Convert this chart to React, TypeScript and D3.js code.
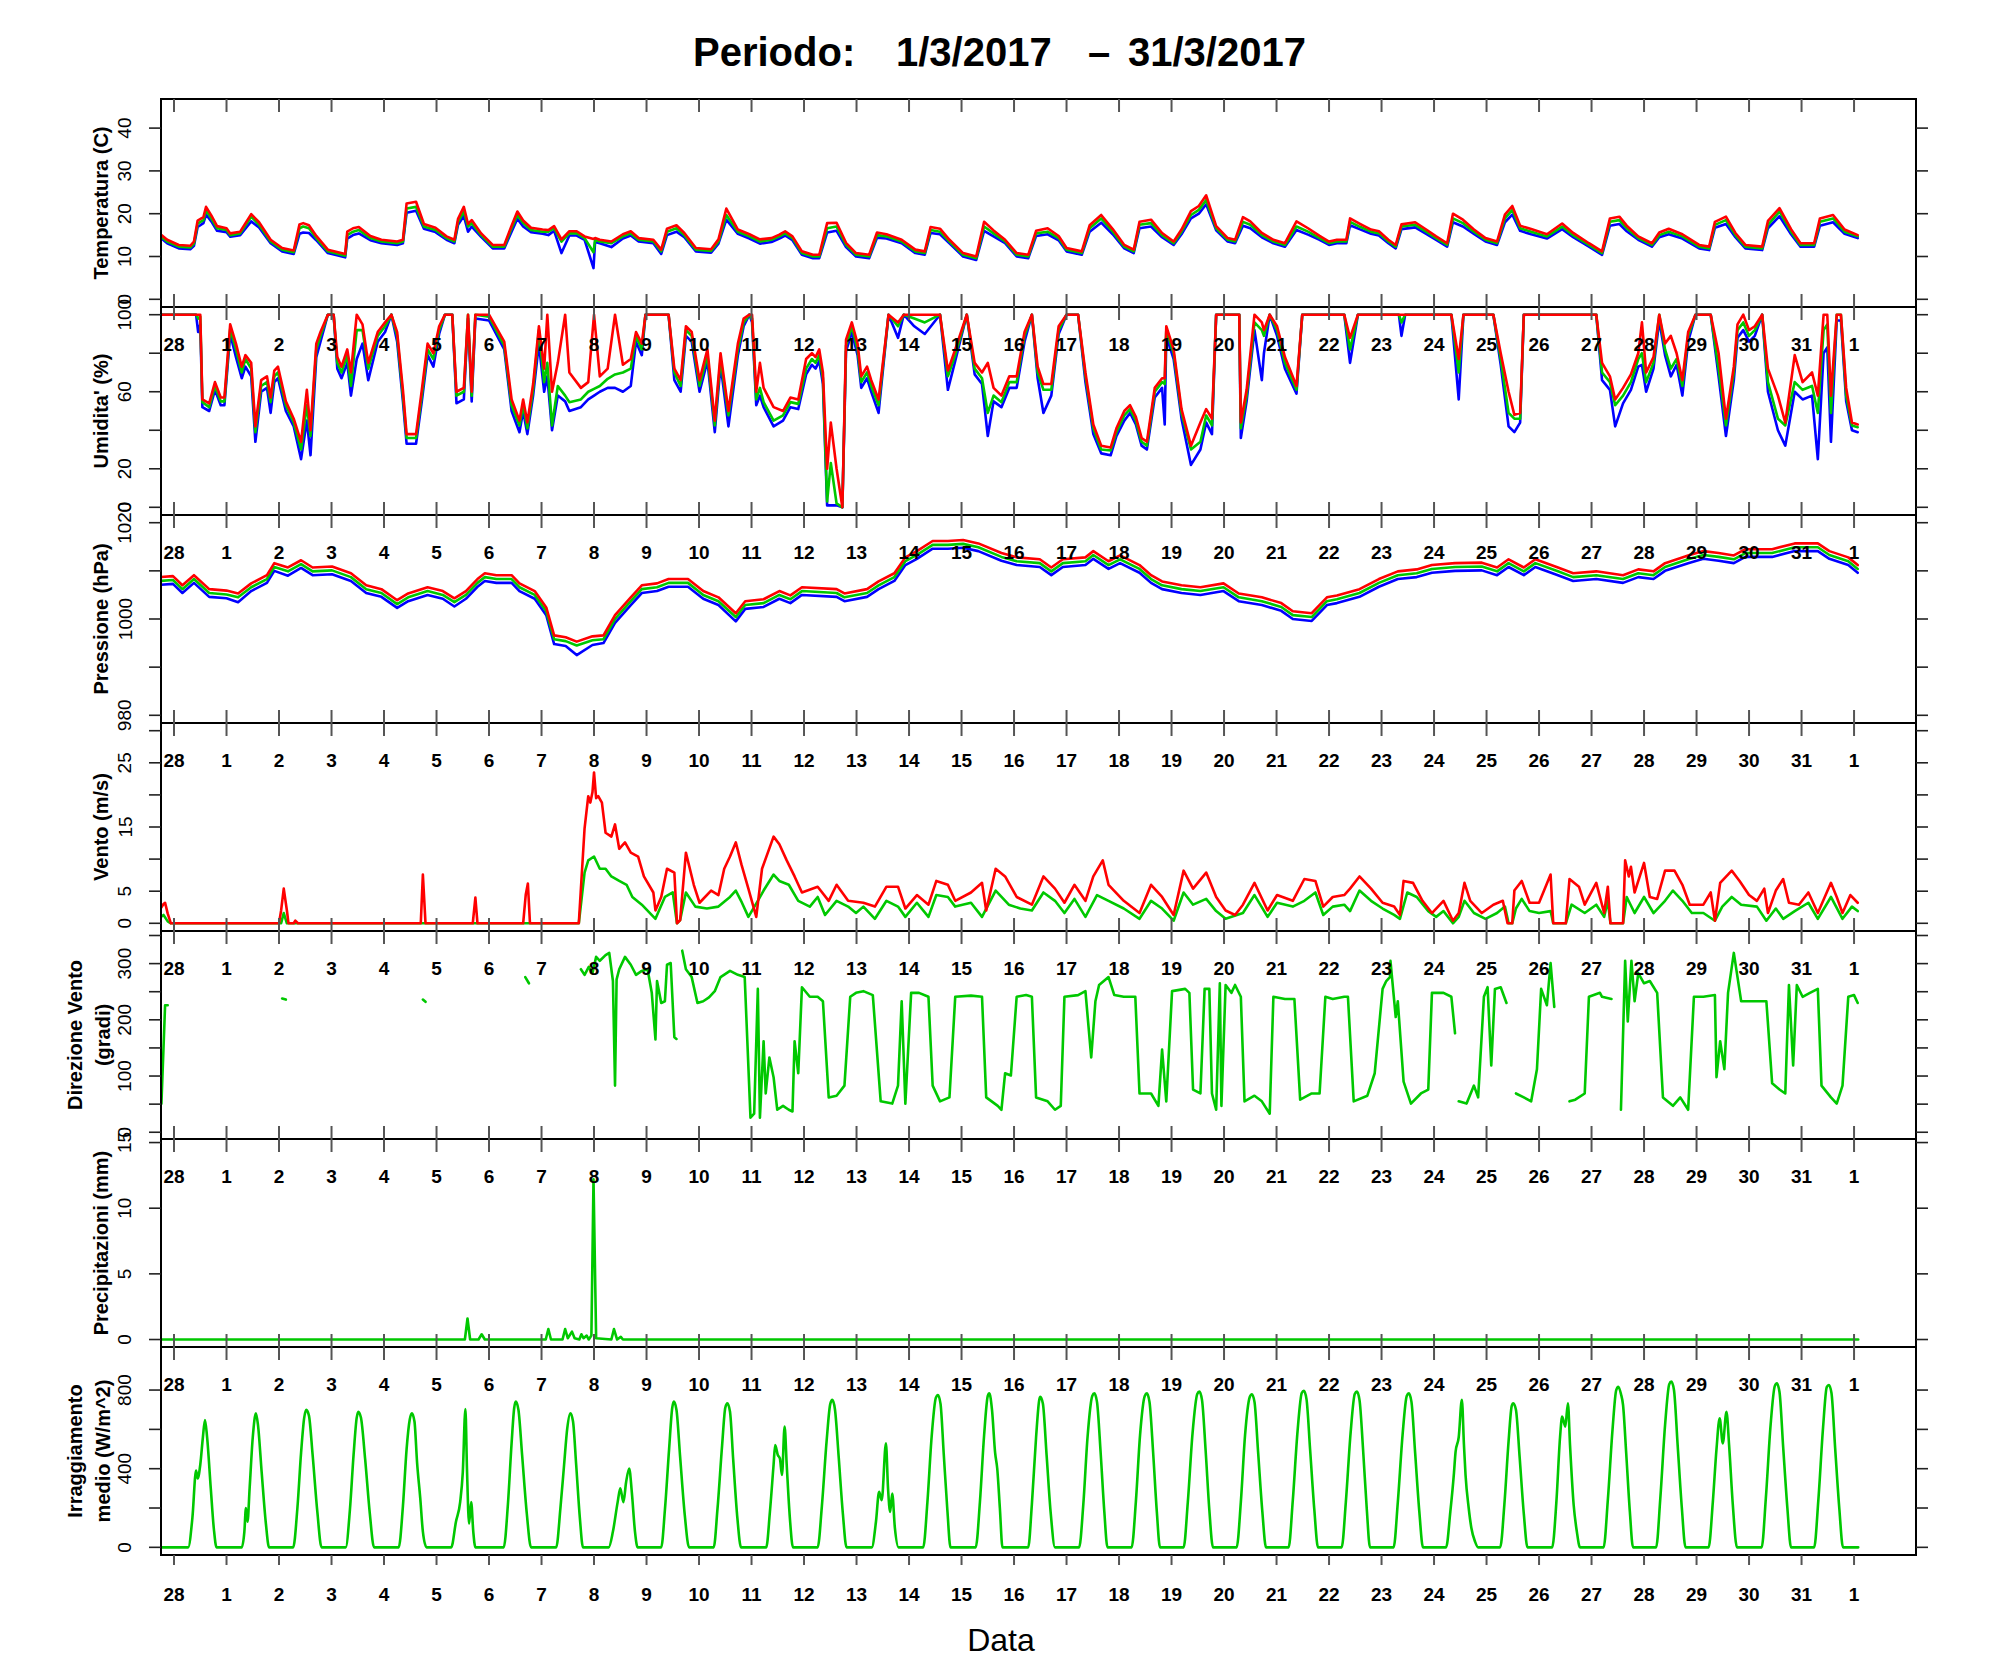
import React from 'react';
import * as d3 from 'd3';

type Pt = [number, number | null];
type Row = [number, number, number, number];

// ---------- x axis (days since 1 March 2017 00:00) ----------
const dayTicks: number[] = d3.range(-1, 32);
const dayTickLabels: string[] = ['28','1','2','3','4','5','6','7','8','9','10','11','12','13','14','15','16','17','18','19','20','21','22','23','24','25','26','27','28','29','30','31','1'];

// ---------- Temperatura [d, min, mean, max] ----------
const tempRows: Row[] = [
[-1.28,14.6,15.0,15.4],[-1.13,13.1,13.5,13.9],[-0.91,11.9,12.3,12.7],[-0.69,11.7,12.1,12.5],[-0.62,12.5,13.0,13.5],[-0.55,16.9,17.7,18.4],[-0.44,17.8,18.5,19.2],[-0.39,19.8,20.8,21.6],[-0.29,18.2,18.9,19.6],[-0.18,16.0,16.6,17.1],
[0.0,15.7,16.2,16.6],[0.07,14.6,15.0,15.4],[0.26,15.0,15.4,15.8],[0.47,18.2,19.3,19.9],[0.62,16.8,17.4,18.0],[0.84,13.1,13.5,13.9],[1.06,11.2,11.6,12.0],[1.28,10.6,11.0,11.4],[1.39,15.3,16.6,17.5],[1.46,15.6,17.0,17.8],
[1.57,15.5,16.6,17.3],[1.71,13.8,14.3,14.8],[1.93,10.8,11.2,11.6],[2.26,9.8,10.2,10.6],[2.30,14.2,15.0,15.8],[2.41,15.0,15.8,16.6],[2.52,15.4,16.2,16.9],[2.74,13.8,14.3,14.8],[2.95,13.1,13.5,13.9],[3.25,12.7,13.1,13.5],
[3.36,13.1,13.5,13.9],[3.43,20.2,21.2,22.4],[3.61,20.7,21.6,22.8],[3.76,16.5,17.0,17.6],[3.98,15.7,16.2,16.7],[4.19,13.9,14.3,14.7],[4.34,13.1,13.5,13.9],[4.41,17.4,18.1,18.8],[4.52,19.5,20.5,21.6],[4.60,15.8,17.0,17.6],
[4.67,17.0,17.8,18.5],[4.85,14.6,15.0,15.4],[5.07,11.9,12.3,12.7],[5.29,11.9,12.3,12.7],[5.43,15.8,16.6,17.2],[5.54,18.8,19.7,20.5],[5.65,17.0,17.8,18.4],[5.80,15.7,16.2,16.7],[6.02,15.3,15.8,16.3],[6.13,15.0,15.8,16.2],
[6.24,16.0,16.6,17.1],[6.38,10.8,13.5,14.0],[6.53,14.9,15.4,15.9],[6.67,14.9,15.4,15.9],[6.82,13.9,14.3,14.7],[6.99,7.3,11.0,14.1],[7.02,13.4,13.9,14.3],[7.11,13.1,13.5,13.9],[7.33,12.2,13.1,13.5],[7.55,14.2,14.7,15.2],
[7.70,14.9,15.4,15.9],[7.85,13.5,13.9,14.3],[8.13,13.1,13.5,13.9],[8.28,10.6,11.2,11.6],[8.39,15.0,15.8,16.5],[8.57,15.8,16.6,17.3],[8.72,14.5,15.0,15.5],[8.94,11.2,11.6,12.0],[9.23,10.9,11.3,11.7],[9.37,13.0,13.5,14.0],
[9.52,18.6,19.7,21.2],[9.74,15.3,15.8,16.3],[9.96,14.2,14.7,15.2],[10.16,13.0,13.5,14.0],[10.38,13.4,13.9,14.3],[10.53,14.2,14.7,15.1],[10.64,14.9,15.4,15.9],[10.78,13.8,14.3,14.7],[10.96,10.4,10.8,11.2],[11.17,9.6,10.0,10.4],
[11.29,9.6,10.0,10.4],[11.44,15.6,16.6,17.8],[11.62,16.0,17.0,17.9],[11.80,12.2,12.7,13.2],[11.99,10.0,10.4,10.8],[12.24,9.6,10.0,10.4],[12.39,14.4,15.0,15.6],[12.57,14.2,14.7,15.2],[12.86,13.1,13.5,13.9],[13.12,10.8,11.2,11.6],
[13.30,10.4,10.8,11.2],[13.41,15.5,16.2,16.9],[13.59,15.2,15.8,16.5],[13.77,13.1,13.5,13.9],[14.03,10.0,10.4,10.8],[14.28,9.2,9.6,10.0],[14.43,16.0,17.0,18.1],[14.61,14.7,15.4,16.1],[14.83,13.1,13.5,13.9],[15.05,10.0,10.4,10.8],
[15.27,9.6,10.0,10.4],[15.42,14.8,15.4,16.0],[15.64,15.2,15.8,16.6],[15.85,13.8,14.3,14.8],[16.0,11.2,11.6,12.0],[16.29,10.4,10.8,11.2],[16.44,15.8,16.6,17.3],[16.66,17.9,18.9,19.7],[16.88,15.2,15.8,16.4],[17.10,11.9,12.3,12.7],
[17.28,10.8,11.2,11.6],[17.39,16.6,17.4,18.1],[17.61,17.0,17.8,18.6],[17.82,14.5,15.0,15.5],[18.04,12.7,13.1,13.5],[18.19,15.2,15.8,16.3],[18.37,18.9,19.7,20.6],[18.52,20.0,20.9,21.8],[18.66,22.2,23.2,24.3],[18.85,16.1,16.6,17.1],
[19.07,13.5,13.9,14.3],[19.21,13.1,13.5,13.9],[19.36,17.2,18.1,19.2],[19.50,16.6,17.4,18.2],[19.72,14.5,15.0,15.5],[19.94,13.1,13.5,13.9],[20.16,12.3,12.7,13.1],[20.38,16.2,17.0,18.2],[20.60,15.1,15.8,16.6],[20.82,13.9,14.3,14.8],
[21.0,12.7,13.1,13.5],[21.15,13.1,13.5,13.9],[21.33,13.1,13.5,13.9],[21.40,17.3,18.1,18.9],[21.58,16.4,17.0,17.7],[21.80,15.3,15.8,16.3],[21.95,14.9,15.4,15.9],[22.13,13.1,13.5,13.9],[22.27,11.9,12.3,12.7],[22.38,16.4,17.0,17.5],
[22.64,16.8,17.4,18.0],[22.85,15.3,15.8,16.3],[23.04,13.9,14.3,14.7],[23.25,12.3,12.7,13.1],[23.36,18.0,18.9,20.0],[23.55,17.0,17.8,18.6],[23.76,15.3,15.8,16.3],[23.98,13.5,13.9,14.3],[24.20,12.7,13.1,13.5],[24.35,18.0,18.9,19.8],
[24.49,19.8,20.9,21.8],[24.64,16.0,16.6,17.2],[24.85,15.2,15.8,16.4],[25.15,14.2,14.7,15.2],[25.44,16.4,17.0,17.7],[25.65,14.5,15.0,15.5],[25.95,12.3,12.7,13.1],[26.20,10.4,10.8,11.2],[26.35,17.2,18.1,18.9],[26.53,17.6,18.5,19.3],
[26.67,15.9,16.6,17.2],[26.89,13.9,14.3,14.7],[27.15,12.3,12.7,13.1],[27.29,14.5,15.0,15.6],[27.47,15.2,15.8,16.5],[27.73,14.2,14.7,15.2],[28.05,11.9,12.3,12.7],[28.24,11.5,11.9,12.3],[28.35,16.7,17.4,18.1],[28.56,17.6,18.5,19.3],
[28.74,14.5,15.0,15.5],[28.93,11.9,12.3,12.7],[29.25,11.5,11.9,12.3],[29.36,16.6,17.4,18.3],[29.58,19.4,20.5,21.3],[29.80,15.2,15.8,16.4],[29.98,12.3,12.7,13.1],[30.24,12.3,12.7,13.1],[30.35,17.2,18.1,18.9],[30.60,18.0,18.9,19.7],
[30.82,15.3,15.8,16.3],[31.07,14.3,14.7,15.0]
];

// ---------- Umidita' [d, min, mean, max] ----------
const humRows: Row[] = [
[-1.28,100,100,100],[-0.58,100,100,100],[-0.54,91,98,100],[-0.50,95,99,100],[-0.46,52,54.6,56],[-0.33,50,52,54],[-0.22,61,63,65],[-0.11,53,55,57],[-0.04,53,55,57],[0.07,90,92.6,95],
[0.18,78,82,85],[0.29,67,70,73],[0.36,73,77,79],[0.47,68,72,75],[0.55,34,39,42],[0.66,60,63,66],[0.77,62,65,68],[0.84,49,54.6,57],[0.91,65,68,71],[0.98,67,70,73],
[1.13,50,53,55],[1.28,42,44,46],[1.42,25,30,34],[1.53,45,53,61],[1.60,27,37,40],[1.71,78,82,85],[1.79,86,89,91],[1.93,100,100,100],[2.04,100,100,100],[2.11,72,75,78],
[2.19,67,70,73],[2.30,75,79,82],[2.37,58,63,70],[2.48,77,92,100],[2.59,85,92,95],[2.70,66,72,75],[2.88,86,89,91],[3.02,91,94,96],[3.14,100,100,100],[3.25,86,89,91],
[3.36,55,58,61],[3.43,33,36,38],[3.61,33,36,38],[3.72,55,58,61],[3.83,79,82,85],[3.94,73,77,80],[4.05,90,92,94],[4.16,100,100,100],[4.30,100,100,100],[4.38,54,58,60],
[4.52,56,60,62],[4.60,98,100,100],[4.67,55,58,60],[4.74,98,100,100],[5.0,97,99,100],[5.29,82,84,86],[5.43,50,53,56],[5.58,39,42.5,45],[5.65,50,53,56],[5.73,38,41,44],
[5.84,58,61,64],[5.95,85,92,94],[6.05,60,65,72],[6.11,68,75,100],[6.20,40,42.5,60],[6.31,58,63,75],[6.45,55,58,100],[6.53,50,54.6,70],[6.75,52,56,62],[6.89,56,60,65],
[7.0,58,61.5,100],[7.11,60,63,68],[7.26,62,66.7,72],[7.40,62,69,100],[7.55,60,70,74],[7.70,63,72,77],[7.80,86,89,91],[7.91,79,82,85],[7.98,100,100,100],[8.42,100,100,100],
[8.53,66,70,72],[8.65,60,63,66],[8.75,89,92,94],[8.86,86,89,91],[9.01,60,63,66],[9.16,76,79,82],[9.30,39,42.5,45],[9.41,74,77,80],[9.56,42,47.7,50],[9.74,79,82,85],
[9.85,94,96,98],[9.96,100,100,100],[10.01,96,98,100],[10.09,53,56,60],[10.16,58,62,75],[10.23,52,54.6,62],[10.42,42,45,52],[10.60,45,47.7,50],[10.74,52,54.6,57],[10.89,51,53.7,56],
[11.04,69,72,77],[11.15,74,77,80],[11.22,72,75,78],[11.29,76,79,82],[11.36,64,67,70],[11.44,1,3,20],[11.51,1,23,44],[11.62,1,2,20],[11.73,0,0,0],[11.80,81,84,87],
[11.91,91,94,96],[12.02,79,82,85],[12.09,62,65,68],[12.20,67,70,73],[12.28,60,63,66],[12.42,49,53,56],[12.61,100,100,100],[12.79,88,94,96],[12.90,100,100,100],[13.10,94,98,100],
[13.30,90,96,100],[13.59,100,100,100],[13.74,61,68,71],[13.88,76,79,82],[14.10,100,100,100],[14.25,69,72,75],[14.39,64,67,70],[14.50,37,49,75],[14.61,55,58,62],[14.76,52,54.6,58],
[14.91,62,65,68],[15.05,62,65,68],[15.20,86,89,91],[15.34,100,100,100],[15.45,67,70,73],[15.56,49,61,64],[15.71,58,61,64],[15.85,90,92,94],[16.0,100,100,100],[16.22,100,100,100],
[16.36,65,68,70],[16.51,38,41,43],[16.66,28,30,32],[16.84,27,29.5,31],[16.95,37,39,41],[17.10,45,47.7,50],[17.21,49,51,53],[17.32,43,45,47],[17.43,32,34,36],[17.53,30,32,34],
[17.68,57,60,62],[17.82,62,65,67],[17.87,43,64,67],[17.90,89,92,94],[18.04,77,80,82],[18.19,46,49,51],[18.37,22,30,32],[18.55,30,34,44],[18.66,44,47.7,51],[18.77,38,42.5,46],
[18.85,100,100,100],[19.29,100,100,100],[19.32,36,41,44],[19.43,55,58,61],[19.58,92,96,100],[19.72,66,92,96],[19.76,80,89,92],[19.87,100,100,100],[20.01,89,92,94],[20.16,72,75,78],
[20.38,59,61,63],[20.49,100,100,100],[21.29,100,100,100],[21.40,75,82,88],[21.55,100,100,100],[22.33,100,100,100],[22.38,89,96,100],[22.45,100,100,100],[23.33,100,100,100],[23.47,56,70,77],
[23.56,100,100,100],[24.13,100,100,100],[24.27,74,77,80],[24.42,42,49,60],[24.53,39,46,48],[24.64,44,46,49],[24.71,100,100,100],[26.09,100,100,100],[26.20,66,70,75],[26.35,61,65,68],
[26.45,42,53,56],[26.60,54,58,62],[26.75,61,65,69],[26.89,73,77,80],[26.96,74,80,96],[27.04,60,65,70],[27.18,72,75,78],[27.29,97,100,100],[27.40,79,82,85],[27.51,68,72,89],
[27.62,74,77,80],[27.73,58,63,66],[27.84,86,89,91],[27.98,100,100,100],[28.27,100,100,100],[28.42,68,72,80],[28.56,37,42.5,46],[28.71,66,70,73],[28.78,88,92,95],[28.89,92,96,100],
[29.0,86,89,92],[29.11,89,92,94],[29.25,100,100,100],[29.36,60,65,72],[29.55,40,46,58],[29.69,32,42.5,44],[29.87,60,65,79],[30.02,56,61,65],[30.20,58,63,70],[30.31,25,49,58],
[30.42,80,92,100],[30.49,83,95,100],[30.56,34,49,58],[30.67,97,100,100],[30.75,97,100,100],[30.85,55,58,62],[30.96,40,42.5,44],[31.07,39,41.6,43]
];

// ---------- Pressione [d, min, mean, max] ----------
const pressRows: Row[] = [
[-1.28,1007.1,1007.9,1008.7],[-1.02,1007.3,1008.1,1008.9],[-0.84,1005.4,1006.2,1007.0],[-0.62,1007.5,1008.3,1009.1],[-0.33,1004.6,1005.4,1006.2],[0.0,1004.3,1005.1,1005.9],[0.22,1003.5,1004.5,1005.3],[0.47,1005.8,1006.6,1007.4],
[0.77,1007.5,1008.3,1009.1],[0.91,1010.0,1010.8,1011.6],[1.17,1009.0,1009.9,1010.7],[1.42,1010.6,1011.4,1012.2],[1.64,1009.1,1009.9,1010.7],[2.01,1009.3,1010.1,1010.9],[2.37,1007.9,1008.7,1009.5],[2.66,1005.4,1006.2,1007.0],
[2.95,1004.6,1005.4,1006.2],[3.25,1002.3,1003.1,1003.9],[3.46,1003.7,1004.5,1005.3],[3.83,1005.0,1005.8,1006.6],[4.12,1004.2,1005.0,1005.8],[4.34,1002.6,1003.5,1004.3],[4.56,1004.2,1005.0,1005.8],[4.78,1006.7,1007.5,1008.3],
[4.92,1007.9,1008.7,1009.5],[5.14,1007.5,1008.3,1009.1],[5.43,1007.5,1008.3,1009.1],[5.58,1005.8,1006.6,1007.4],[5.87,1004.2,1005.0,1005.8],[6.09,1000.8,1001.6,1002.4],[6.24,994.8,995.8,996.6],[6.46,994.4,995.4,996.2],
[6.67,992.5,994.5,995.3],[6.97,994.6,995.6,996.4],[7.18,995.0,995.8,996.6],[7.40,999.2,1000.0,1000.8],[7.70,1002.9,1003.7,1004.5],[7.91,1005.4,1006.2,1007.0],[8.20,1005.8,1006.6,1007.4],[8.42,1006.7,1007.5,1008.3],
[8.79,1006.7,1007.5,1008.3],[9.08,1004.2,1005.0,1005.8],[9.37,1002.9,1003.7,1004.5],[9.70,999.5,1000.4,1001.2],[9.88,1002.1,1002.9,1003.7],[10.23,1002.5,1003.3,1004.1],[10.53,1004.2,1005.0,1005.8],[10.74,1003.3,1004.1,1004.9],
[10.96,1005.0,1005.8,1006.6],[11.62,1004.6,1005.4,1006.2],[11.77,1003.7,1004.5,1005.3],[12.20,1004.6,1005.4,1006.2],[12.42,1006.2,1007.0,1007.8],[12.72,1007.9,1008.7,1009.5],[12.93,1011.2,1012.0,1012.8],[13.15,1012.5,1013.3,1014.1],
[13.45,1014.6,1015.4,1016.2],[13.74,1014.6,1015.4,1016.2],[14.03,1014.8,1015.6,1016.4],[14.32,1014.1,1014.9,1015.7],[14.76,1012.1,1012.9,1013.7],[15.05,1011.2,1012.0,1012.8],[15.49,1010.8,1011.6,1012.4],[15.71,1009.1,1009.9,1010.7],
[15.93,1010.8,1011.6,1012.4],[16.36,1011.2,1012.0,1012.8],[16.51,1012.5,1013.3,1014.1],[16.80,1010.4,1011.2,1012.0],[17.02,1011.6,1012.4,1013.2],[17.39,1009.6,1010.4,1011.2],[17.61,1007.5,1008.3,1009.1],[17.82,1006.2,1007.0,1007.8],
[18.19,1005.4,1006.2,1007.0],[18.55,1005.0,1005.8,1006.6],[18.99,1005.8,1006.6,1007.4],[19.28,1003.7,1004.5,1005.3],[19.72,1002.9,1003.7,1004.5],[20.09,1001.7,1002.5,1003.3],[20.31,1000.0,1000.8,1001.6],[20.67,999.6,1000.4,1001.2],
[20.96,1002.9,1003.7,1004.5],[21.15,1003.3,1004.1,1004.9],[21.58,1004.6,1005.4,1006.2],[21.95,1006.7,1007.5,1008.3],[22.31,1008.3,1009.1,1009.9],[22.67,1008.7,1009.5,1010.3],[22.96,1009.6,1010.4,1011.2],[23.40,1010.0,1010.8,1011.6],
[23.91,1010.1,1010.9,1011.7],[24.20,1009.1,1009.9,1010.7],[24.42,1010.8,1011.6,1012.4],[24.71,1009.1,1009.9,1010.7],[24.93,1010.8,1011.6,1012.4],[25.36,1009.1,1009.9,1010.7],[25.65,1007.9,1008.7,1009.5],[26.09,1008.3,1009.1,1009.9],
[26.60,1007.5,1008.3,1009.1],[26.89,1008.7,1009.5,1010.3],[27.18,1008.3,1009.1,1009.9],[27.40,1010.0,1010.8,1011.6],[27.84,1011.6,1012.4,1013.2],[28.13,1012.5,1013.3,1014.1],[28.42,1012.1,1012.9,1013.7],[28.71,1011.6,1012.4,1013.2],
[28.93,1012.9,1013.7,1014.5],[29.44,1012.9,1013.7,1014.5],[29.87,1014.1,1014.9,1015.7],[30.31,1014.1,1014.9,1015.7],[30.53,1012.5,1013.3,1014.1],[30.89,1011.2,1012.0,1012.8],[31.07,1009.6,1010.4,1011.2]
];

// ---------- Vento (m/s) ----------
const windMax: Pt[] = [
[-1.28,2.0],[-1.20,3.0],[-1.17,3.2],[-1.12,1.5],[-1.06,0],[1.00,0],[1.04,2.0],[1.09,5.4],[1.15,2.0],[1.18,0],[1.28,0],[1.31,0.4],[1.36,0],[3.70,0],[3.74,7.6],[3.79,0],[4.69,0],[4.74,4.0],[4.78,0],[5.65,0],[5.70,4.5],[5.74,6.2],[5.78,0],
[6.71,0],[6.82,14.8],[6.89,19.8],[6.93,18.8],[6.97,20.4],[7.00,23.5],[7.04,19.5],[7.08,19.8],[7.15,18.8],[7.22,14.1],[7.33,13.5],[7.40,15.4],[7.48,11.6],[7.59,12.6],[7.70,11.0],[7.84,10.4],[7.95,7.3],[8.13,4.8],[8.17,2.0],[8.28,4.1],[8.39,8.5],[8.53,7.9],[8.58,0],[8.64,0.5],[8.75,11.0],[8.90,6.0],[9.01,3.2],[9.23,5.1],[9.37,4.4],[9.48,8.5],[9.59,10.4],[9.70,12.6],[9.81,9.1],[9.94,5.4],
[10.09,1.0],[10.20,8.5],[10.42,13.5],[10.53,12.3],[10.67,9.8],[10.82,7.3],[10.96,4.8],[11.26,5.7],[11.47,3.5],[11.62,6.0],[11.84,3.5],[12.13,3.2],[12.35,2.6],[12.57,5.7],[12.79,5.7],[12.93,2.3],[13.15,4.4],[13.37,2.9],[13.52,6.6],[13.74,6.0],[13.88,3.5],[14.18,4.8],[14.39,6.3],[14.47,2.0],[14.65,8.5],[14.83,7.3],[15.05,4.1],[15.34,2.9],[15.56,7.3],[15.78,5.4],[15.96,3.2],
[16.15,6.0],[16.36,3.5],[16.51,7.3],[16.69,9.8],[16.80,6.0],[17.09,3.5],[17.39,1.6],[17.61,6.0],[17.82,4.1],[18.04,1.3],[18.23,8.2],[18.41,5.4],[18.66,7.9],[18.85,4.1],[19.03,2.0],[19.21,1.3],[19.36,2.9],[19.58,6.3],[19.83,2.0],[20.01,4.4],[20.31,3.5],[20.53,6.9],[20.74,6.6],[20.89,2.6],
[21.07,4.1],[21.29,4.4],[21.40,5.4],[21.58,7.3],[21.80,5.4],[22.02,3.2],[22.24,2.6],[22.35,1.3],[22.42,6.6],[22.60,6.3],[22.78,3.5],[22.96,1.6],[23.18,3.5],[23.36,0.4],[23.47,1.6],[23.58,6.3],[23.69,3.5],[23.91,1.6],[24.13,2.9],[24.31,3.5],[24.40,0],[24.49,0],[24.53,5.1],[24.67,6.6],[24.82,3.2],[25.00,3.2],[25.22,7.6],[25.27,0],[25.51,0],[25.58,6.9],[25.76,5.7],[25.87,2.9],
[26.09,6.3],[26.24,1.6],[26.31,5.7],[26.36,0],[26.60,0],[26.64,9.8],[26.71,7.3],[26.75,8.8],[26.82,4.8],[27.00,9.4],[27.11,4.1],[27.25,3.8],[27.40,8.2],[27.58,8.2],[27.73,6.0],[27.87,2.9],[28.13,2.9],[28.27,4.8],[28.35,0.4],[28.45,6.3],[28.67,8.2],[28.82,6.6],[29.00,4.4],[29.15,3.5],[29.29,5.4],[29.36,1.6],[29.51,5.1],[29.65,6.9],[29.76,3.2],[29.95,2.9],[30.13,4.8],[30.31,1.6],[30.56,6.3],[30.67,4.1],[30.78,1.6],[30.93,4.4],[31.07,3.2]
];
const windMean: Pt[] = [
[-1.28,0.8],[-1.20,1.3],[-1.12,0.3],[-1.06,0],[1.04,0],[1.09,1.6],[1.15,0],[6.71,0],[6.82,7.9],[6.89,9.8],[7.00,10.4],[7.11,8.5],[7.22,8.5],[7.33,7.3],[7.48,6.6],[7.62,6.0],[7.73,4.1],[7.91,2.9],[8.17,0.7],[8.35,4.1],[8.50,4.8],[8.58,0],[8.64,0.5],[8.75,4.8],[8.93,2.6],[9.15,2.3],[9.37,2.6],[9.59,4.1],[9.70,5.1],[9.80,3.5],[9.94,1.0],
[10.12,3.5],[10.23,5.1],[10.42,7.6],[10.53,6.6],[10.71,6.0],[10.89,3.5],[11.11,2.6],[11.26,4.1],[11.40,1.3],[11.62,3.5],[11.84,2.6],[11.99,1.6],[12.13,2.6],[12.35,0.7],[12.57,3.5],[12.79,2.6],[12.93,1.0],[13.15,3.2],[13.37,1.0],[13.52,4.4],[13.74,4.1],[13.88,2.6],[14.18,3.2],[14.39,1.0],[14.65,5.1],[14.90,2.9],[15.12,2.3],[15.34,2.0],[15.56,4.8],[15.78,3.5],[15.96,1.6],
[16.15,3.8],[16.36,1.0],[16.58,4.4],[16.80,3.5],[17.09,2.3],[17.39,0.7],[17.61,3.5],[17.82,2.3],[18.04,0.4],[18.23,4.8],[18.41,2.9],[18.66,3.8],[18.85,1.9],[19.03,0.7],[19.36,1.6],[19.58,4.4],[19.83,1.0],[20.01,3.2],[20.31,2.6],[20.53,3.5],[20.74,4.8],[20.89,1.3],
[21.07,2.6],[21.29,2.9],[21.40,1.9],[21.58,5.1],[21.80,3.5],[22.02,2.3],[22.24,1.3],[22.35,0.7],[22.49,4.8],[22.67,4.1],[22.89,1.9],[23.04,1.0],[23.18,1.9],[23.36,0],[23.47,1.0],[23.58,3.5],[23.76,1.6],[23.98,0.7],[24.20,1.6],[24.35,2.6],[24.42,0],[24.49,0],[24.56,2.3],[24.67,3.8],[24.82,1.9],[25.00,1.6],[25.22,1.9],[25.27,0],[25.51,0],[25.62,2.9],[25.87,1.6],
[26.09,2.9],[26.24,1.0],[26.31,3.5],[26.36,0],[26.60,0],[26.67,4.1],[26.82,1.6],[27.00,4.1],[27.18,1.6],[27.40,3.5],[27.55,5.1],[27.73,3.5],[27.91,1.6],[28.13,1.6],[28.35,0.4],[28.49,2.6],[28.67,4.1],[28.85,2.9],[29.15,2.6],[29.33,0.4],[29.51,2.3],[29.65,0.7],[29.87,1.9],[30.13,3.2],[30.31,0.7],[30.56,4.1],[30.78,0.7],[30.96,2.6],[31.07,1.9]
];

// ---------- Direzione Vento (gradi), null = calm / gap ----------
const windDir: Pt[] = [
[-1.24,51],[-1.17,226],[-1.12,226],[-1.10,null],
[1.06,238],[1.13,236],[1.15,null],
[3.74,236],[3.79,232],[3.80,null],
[5.69,276],[5.76,265],[5.78,null],
[6.75,290],[6.82,280],[6.90,294],[6.97,283],[7.04,312],[7.11,305],[7.22,315],[7.29,319],[7.36,269],[7.40,83],[7.43,272],[7.48,290],[7.59,312],[7.70,298],[7.80,280],[7.91,287],[8.02,290],[8.10,248],[8.17,165],[8.20,269],[8.28,230],[8.35,233],[8.39,298],[8.46,301],[8.53,169],[8.57,166],[8.60,null],
[8.68,323],[8.75,290],[8.86,276],[8.97,230],[9.08,233],[9.19,240],[9.30,251],[9.41,276],[9.59,287],[9.74,280],[9.87,276],[9.98,26],[10.05,33],[10.12,255],[10.16,26],[10.23,162],[10.27,69],[10.34,133],[10.42,98],[10.49,40],[10.60,47],[10.71,40],[10.78,37],[10.82,162],[10.89,105],[10.96,258],
[11.11,241],[11.26,241],[11.36,233],[11.47,62],[11.62,65],[11.77,83],[11.88,241],[11.99,248],[12.13,251],[12.31,244],[12.46,55],[12.68,51],[12.79,83],[12.86,233],[12.93,51],[13.04,248],[13.19,248],[13.37,241],[13.45,83],[13.59,55],[13.77,62],[13.88,241],[14.18,243],[14.39,241],[14.47,62],[14.69,47],[14.76,40],[14.83,105],[14.94,101],
[15.05,241],[15.23,244],[15.34,241],[15.42,62],[15.64,55],[15.78,40],[15.89,47],[15.96,241],[16.22,244],[16.36,251],[16.47,133],[16.55,233],[16.62,262],[16.80,276],[16.91,244],[17.09,241],[17.31,241],[17.39,69],[17.61,69],[17.75,47],[17.82,147],[17.90,55],[18.01,251],[18.26,255],[18.34,248],[18.41,76],[18.55,69],[18.63,255],[18.72,255],[18.77,69],[18.85,40],[18.92,265],[18.95,47],
[19.03,262],[19.14,248],[19.21,262],[19.32,241],[19.39,55],[19.58,65],[19.72,55],[19.87,33],[19.94,241],[20.16,237],[20.34,237],[20.45,58],[20.67,69],[20.82,69],[20.93,241],[21.07,237],[21.29,241],[21.36,241],[21.47,55],[21.73,65],[21.87,105],[22.02,255],[22.09,269],[22.16,276],[22.17,305],[22.27,205],[22.31,233],[22.42,90],[22.56,51],[22.75,69],[22.89,76],[22.96,248],[23.18,248],[23.33,241],[23.40,176],[23.44,null],
[23.47,55],[23.62,51],[23.76,83],[23.84,62],[23.95,241],[24.02,258],[24.09,119],[24.16,255],[24.27,258],[24.38,230],[24.45,null],
[24.56,69],[24.71,62],[24.85,55],[24.96,112],[25.04,255],[25.15,226],[25.22,301],[25.29,223],[25.40,null],
[25.58,55],[25.69,58],[25.87,69],[25.95,241],[26.16,248],[26.20,241],[26.38,237],[26.45,null],
[26.56,40],[26.64,305],[26.69,197],[26.76,305],[26.82,233],[26.89,283],[27.00,265],[27.11,269],[27.25,248],[27.36,62],[27.55,47],[27.69,62],[27.84,40],[27.95,241],[28.13,241],[28.35,244],[28.38,98],[28.45,162],[28.53,112],[28.60,248],[28.71,319],[28.78,276],[28.85,233],[29.07,233],[29.33,233],[29.44,87],[29.58,76],[29.69,69],[29.76,262],[29.84,119],[29.91,262],
[30.02,241],[30.16,248],[30.31,255],[30.38,83],[30.56,62],[30.67,51],[30.78,83],[30.89,241],[31.00,244],[31.07,230]
];

// ---------- Precipitazioni (mm) ----------
const rain: Pt[] = [
[-1.28,0],[4.54,0],[4.59,1.6],[4.64,0],[4.80,0],[4.86,0.4],[4.92,0],[6.08,0],[6.13,0.8],[6.18,0],[6.40,0],[6.45,0.8],[6.50,0.1],[6.58,0.6],[6.63,0.1],[6.72,0],[6.76,0.4],[6.80,0.1],[6.86,0.3],[6.90,0],[6.95,0.3],[6.99,12.2],[7.04,0.1],[7.33,0],[7.38,0.8],[7.44,0],[7.51,0.2],[7.55,0],[31.08,0]
];

// ---------- Irraggiamento medio (W/m^2) ----------
const solar: Pt[] = [
[-1.28,20],[-1.25,0],[-0.73,0],[-0.65,150],[-0.58,390],[-0.55,350],[-0.50,420],[-0.45,560],[-0.41,648],[-0.37,560],[-0.30,300],[-0.24,90],[-0.19,0],
[0.29,0],[0.34,80],[0.37,200],[0.40,130],[0.44,300],[0.50,560],[0.56,682],[0.60,620],[0.67,380],[0.75,120],[0.81,0],
[1.27,0],[1.35,200],[1.42,480],[1.48,660],[1.52,699],[1.57,670],[1.64,470],[1.73,180],[1.81,0],
[2.27,0],[2.35,190],[2.42,470],[2.48,660],[2.51,690],[2.56,660],[2.64,450],[2.73,170],[2.81,0],
[3.28,0],[3.36,210],[3.43,500],[3.49,650],[3.53,682],[3.58,640],[3.63,430],[3.69,250],[3.74,80],[3.81,0],
[4.28,0],[4.37,130],[4.45,230],[4.50,380],[4.55,704],[4.58,400],[4.62,120],[4.66,230],[4.70,80],[4.74,0],
[5.28,0],[5.36,220],[5.43,530],[5.48,710],[5.51,741],[5.56,700],[5.63,470],[5.72,170],[5.80,0],
[6.28,0],[6.36,200],[6.43,420],[6.49,605],[6.55,682],[6.60,640],[6.66,420],[6.73,150],[6.79,0],
[7.28,0],[7.36,80],[7.45,230],[7.50,300],[7.56,230],[7.61,330],[7.67,401],[7.72,280],[7.78,80],[7.83,0],
[8.28,0],[8.35,190],[8.43,500],[8.49,710],[8.52,741],[8.57,700],[8.64,460],[8.73,160],[8.81,0],
[9.28,0],[9.35,190],[9.44,520],[9.50,710],[9.54,733],[9.59,690],[9.65,450],[9.73,150],[9.80,0],
[10.28,0],[10.35,180],[10.42,420],[10.45,520],[10.50,470],[10.54,452],[10.58,368],[10.63,614],[10.67,420],[10.73,150],[10.79,0],
[11.26,0],[11.34,210],[11.43,540],[11.50,730],[11.54,750],[11.59,700],[11.66,460],[11.74,170],[11.81,0],
[12.29,0],[12.37,130],[12.43,283],[12.48,240],[12.56,529],[12.60,300],[12.64,180],[12.68,274],[12.73,100],[12.80,0],
[13.27,0],[13.35,230],[13.43,560],[13.51,760],[13.55,775],[13.60,730],[13.66,480],[13.73,190],[13.79,0],
[14.27,0],[14.35,230],[14.43,570],[14.50,770],[14.53,783],[14.58,700],[14.64,480],[14.68,401],[14.73,200],[14.78,0],
[15.27,0],[15.34,220],[15.42,560],[15.48,750],[15.50,766],[15.55,730],[15.62,470],[15.70,170],[15.78,0],
[16.24,0],[16.32,220],[16.40,560],[16.49,770],[16.53,783],[16.58,740],[16.65,480],[16.72,180],[16.78,0],
[17.24,0],[17.32,230],[17.40,570],[17.49,770],[17.53,783],[17.58,740],[17.65,480],[17.72,180],[17.78,0],
[18.23,0],[18.31,230],[18.40,580],[18.49,780],[18.53,792],[18.58,750],[18.65,490],[18.72,190],[18.79,0],
[19.24,0],[19.32,230],[19.40,570],[19.49,765],[19.53,779],[19.58,740],[19.65,480],[19.73,180],[19.80,0],
[20.23,0],[20.31,240],[20.40,590],[20.48,785],[20.52,796],[20.57,755],[20.64,495],[20.72,190],[20.79,0],
[21.24,0],[21.32,230],[21.41,580],[21.49,780],[21.53,792],[21.58,750],[21.65,490],[21.72,190],[21.78,0],
[22.23,0],[22.31,230],[22.40,570],[22.48,770],[22.52,783],[22.57,740],[22.64,480],[22.72,180],[22.79,0],
[23.23,0],[23.31,180],[23.38,380],[23.41,486],[23.47,560],[23.53,750],[23.57,520],[23.60,368],[23.66,200],[23.71,100],[23.78,30],[23.84,0],
[24.26,0],[24.34,220],[24.42,540],[24.48,720],[24.51,733],[24.56,700],[24.63,460],[24.71,170],[24.78,0],
[25.25,0],[25.33,230],[25.40,560],[25.44,665],[25.50,614],[25.55,733],[25.59,520],[25.66,214],[25.72,80],[25.78,0],
[26.23,0],[26.31,240],[26.40,600],[26.47,800],[26.51,817],[26.56,780],[26.60,724],[26.66,480],[26.73,180],[26.79,0],
[27.23,0],[27.31,250],[27.40,620],[27.48,830],[27.52,843],[27.57,800],[27.64,520],[27.72,200],[27.79,0],
[28.23,0],[28.31,230],[28.38,500],[28.44,656],[28.50,529],[28.57,690],[28.62,520],[28.69,220],[28.77,0],
[29.24,0],[29.32,250],[29.41,620],[29.49,820],[29.53,834],[29.58,790],[29.65,510],[29.73,200],[29.80,0],
[30.24,0],[30.32,240],[30.41,610],[30.48,815],[30.52,826],[30.57,785],[30.64,505],[30.72,195],[30.79,0],[31.08,0]
];

// ---------- y axis ticks / labels ----------
const tempTicks = [0, 10, 20, 30, 40];
const tempLabels = [0, 10, 20, 30, 40];
const humTicks = [0, 20, 40, 60, 80, 100];
const humLabels = [0, 20, 60, 100];
const pressTicks = [980, 990, 1000, 1010, 1020];
const pressLabels = [980, 1000, 1020];
const windTicks = [0, 5, 10, 15, 20, 25, 30];
const windLabels = [0, 5, 15, 25];
const dirTicks = [0, 50, 100, 150, 200, 250, 300, 350];
const dirLabels = [0, 100, 200, 300];
const rainTicks = [0, 5, 10, 15];
const rainLabels = [0, 5, 10, 15];
const solarTicks = [0, 200, 400, 600, 800];
const solarLabels = [0, 400, 800];

// ---------- layout ----------
const W = 1991, H = 1680;
const L = 161, R = 1916, T = 99, PH = 208;
const BLUE = '#0000FF', GREEN = '#00C800', RED = '#FF0000';
const FONT = "'Liberation Sans', Arial, Helvetica, sans-serif";

const col = (rows: Row[], k: number): Pt[] => rows.map(r => [r[0], r[k]] as Pt);

type Series = { data: Pt[]; color: string; smooth?: boolean };
type Panel = { title: string[]; domain: [number, number]; ticks: number[]; labels: number[]; series: Series[] };

const panels: Panel[] = [
  { title: ['Temperatura (C)'], domain: [-1.8, 46.8], ticks: tempTicks, labels: tempLabels,
    series: [{ data: col(tempRows, 1), color: BLUE }, { data: col(tempRows, 2), color: GREEN }, { data: col(tempRows, 3), color: RED }] },
  { title: ["Umidita' (%)"], domain: [-4, 104], ticks: humTicks, labels: humLabels,
    series: [{ data: col(humRows, 1), color: BLUE }, { data: col(humRows, 2), color: GREEN }, { data: col(humRows, 3), color: RED }] },
  { title: ['Pressione (hPa)'], domain: [978.4, 1021.6], ticks: pressTicks, labels: pressLabels,
    series: [{ data: col(pressRows, 1), color: BLUE }, { data: col(pressRows, 2), color: GREEN }, { data: col(pressRows, 3), color: RED }] },
  { title: ['Vento (m/s)'], domain: [-1.2, 31.2], ticks: windTicks, labels: windLabels,
    series: [{ data: windMean, color: GREEN }, { data: windMax, color: RED }] },
  { title: ['Direzione Vento', '(gradi)'], domain: [-12, 358], ticks: dirTicks, labels: dirLabels,
    series: [{ data: windDir, color: GREEN }] },
  { title: ['Precipitazioni (mm)'], domain: [-0.57, 15.27], ticks: rainTicks, labels: rainLabels,
    series: [{ data: rain, color: GREEN }] },
  { title: ['Irraggiamento', 'medio (W/m^2)'], domain: [-39, 1019], ticks: solarTicks, labels: solarLabels,
    series: [{ data: solar, color: GREEN, smooth: true }] },
];

export default function App() {
  const x = d3.scaleLinear().domain([-1.248, 32.18]).range([L, R]);
  const bottom = T + panels.length * PH;

  return (
    <svg width={W} height={H} viewBox={`0 0 ${W} ${H}`} fontFamily={FONT}
      style={{ position: 'absolute', left: 0, top: 0, background: '#fff', display: 'block' }}>
      <rect x={0} y={0} width={W} height={H} fill="#fff" />
      <defs>
        {panels.map((_, i) => (
          <clipPath id={`pclip${i}`} key={i}>
            <rect x={L} y={T + i * PH} width={R - L} height={PH} />
          </clipPath>
        ))}
      </defs>

      {/* title */}
      <g fontWeight="bold" fontSize={40} fill="#000">
        <text x={693} y={66}>Periodo:</text>
        <text x={896} y={66}>1/3/2017</text>
        <text x={1088} y={66}>–</text>
        <text x={1128} y={66}>31/3/2017</text>
      </g>

      {panels.map((p, i) => {
        const top = T + i * PH;
        const bot = top + PH;
        const y = d3.scaleLinear().domain(p.domain).range([bot, top]);
        const mid = top + PH / 2;
        return (
          <g key={i}>
            <g clipPath={`url(#pclip${i})`}>
              {p.series.map((s, j) => {
                const line = d3.line<Pt>()
                  .defined(d => d[1] !== null)
                  .x(d => x(d[0]))
                  .y(d => y(d[1] as number))
                  .curve(s.smooth ? d3.curveMonotoneX : d3.curveLinear);
                return <path key={j} d={line(s.data) || ''} fill="none" stroke={s.color}
                  strokeWidth={2.6} strokeLinejoin="round" strokeLinecap="round" />;
              })}
            </g>
            <rect x={L} y={top} width={R - L} height={PH} fill="none" stroke="#000" strokeWidth={2} />
            {/* y ticks both sides */}
            {p.ticks.map(t => (
              <g key={`t${t}`} stroke="#222" strokeWidth={1.6}>
                <line x1={L - 12} x2={L} y1={y(t)} y2={y(t)} />
                <line x1={R} x2={R + 12} y1={y(t)} y2={y(t)} />
              </g>
            ))}
            {p.labels.map(t => (
              <text key={`l${t}`} x={125} y={y(t)} fontSize={19} textAnchor="middle" dominantBaseline="central"
                transform={`rotate(-90, 125, ${y(t)})`} fill="#000">{t}</text>
            ))}
            {/* axis title */}
            {p.title.length === 1 ? (
              <text x={101} y={mid} fontSize={20} fontWeight="bold" textAnchor="middle" dominantBaseline="central"
                transform={`rotate(-90, 101, ${mid})`}>{p.title[0]}</text>
            ) : (
              <g fontSize={20} fontWeight="bold">
                <text x={75} y={mid} textAnchor="middle" dominantBaseline="central"
                  transform={`rotate(-90, 75, ${mid})`}>{p.title[0]}</text>
                <text x={103} y={mid} textAnchor="middle" dominantBaseline="central"
                  transform={`rotate(-90, 103, ${mid})`}>{p.title[1]}</text>
              </g>
            )}
            {/* x ticks at top of panel */}
            {dayTicks.map(d => (
              <line key={`x${d}`} x1={x(d)} x2={x(d)} y1={i === 0 ? top : top - 13} y2={top + 13}
                stroke="#555" strokeWidth={2} />
            ))}
            {/* day labels inside panel */}
            {i > 0 && dayTicks.map((d, k) => (
              <text key={`dl${d}`} x={x(d)} y={top + 44} fontSize={19} fontWeight="bold" textAnchor="middle">{dayTickLabels[k]}</text>
            ))}
          </g>
        );
      })}

      {/* bottom axis */}
      {dayTicks.map((d, k) => (
        <g key={`b${d}`}>
          <line x1={x(d)} x2={x(d)} y1={bottom} y2={bottom + 10} stroke="#555" strokeWidth={2} />
          <text x={x(d)} y={1601} fontSize={19} fontWeight="bold" textAnchor="middle">{dayTickLabels[k]}</text>
        </g>
      ))}
      <text x={1001} y={1651} fontSize={32} textAnchor="middle">Data</text>
    </svg>
  );
}
